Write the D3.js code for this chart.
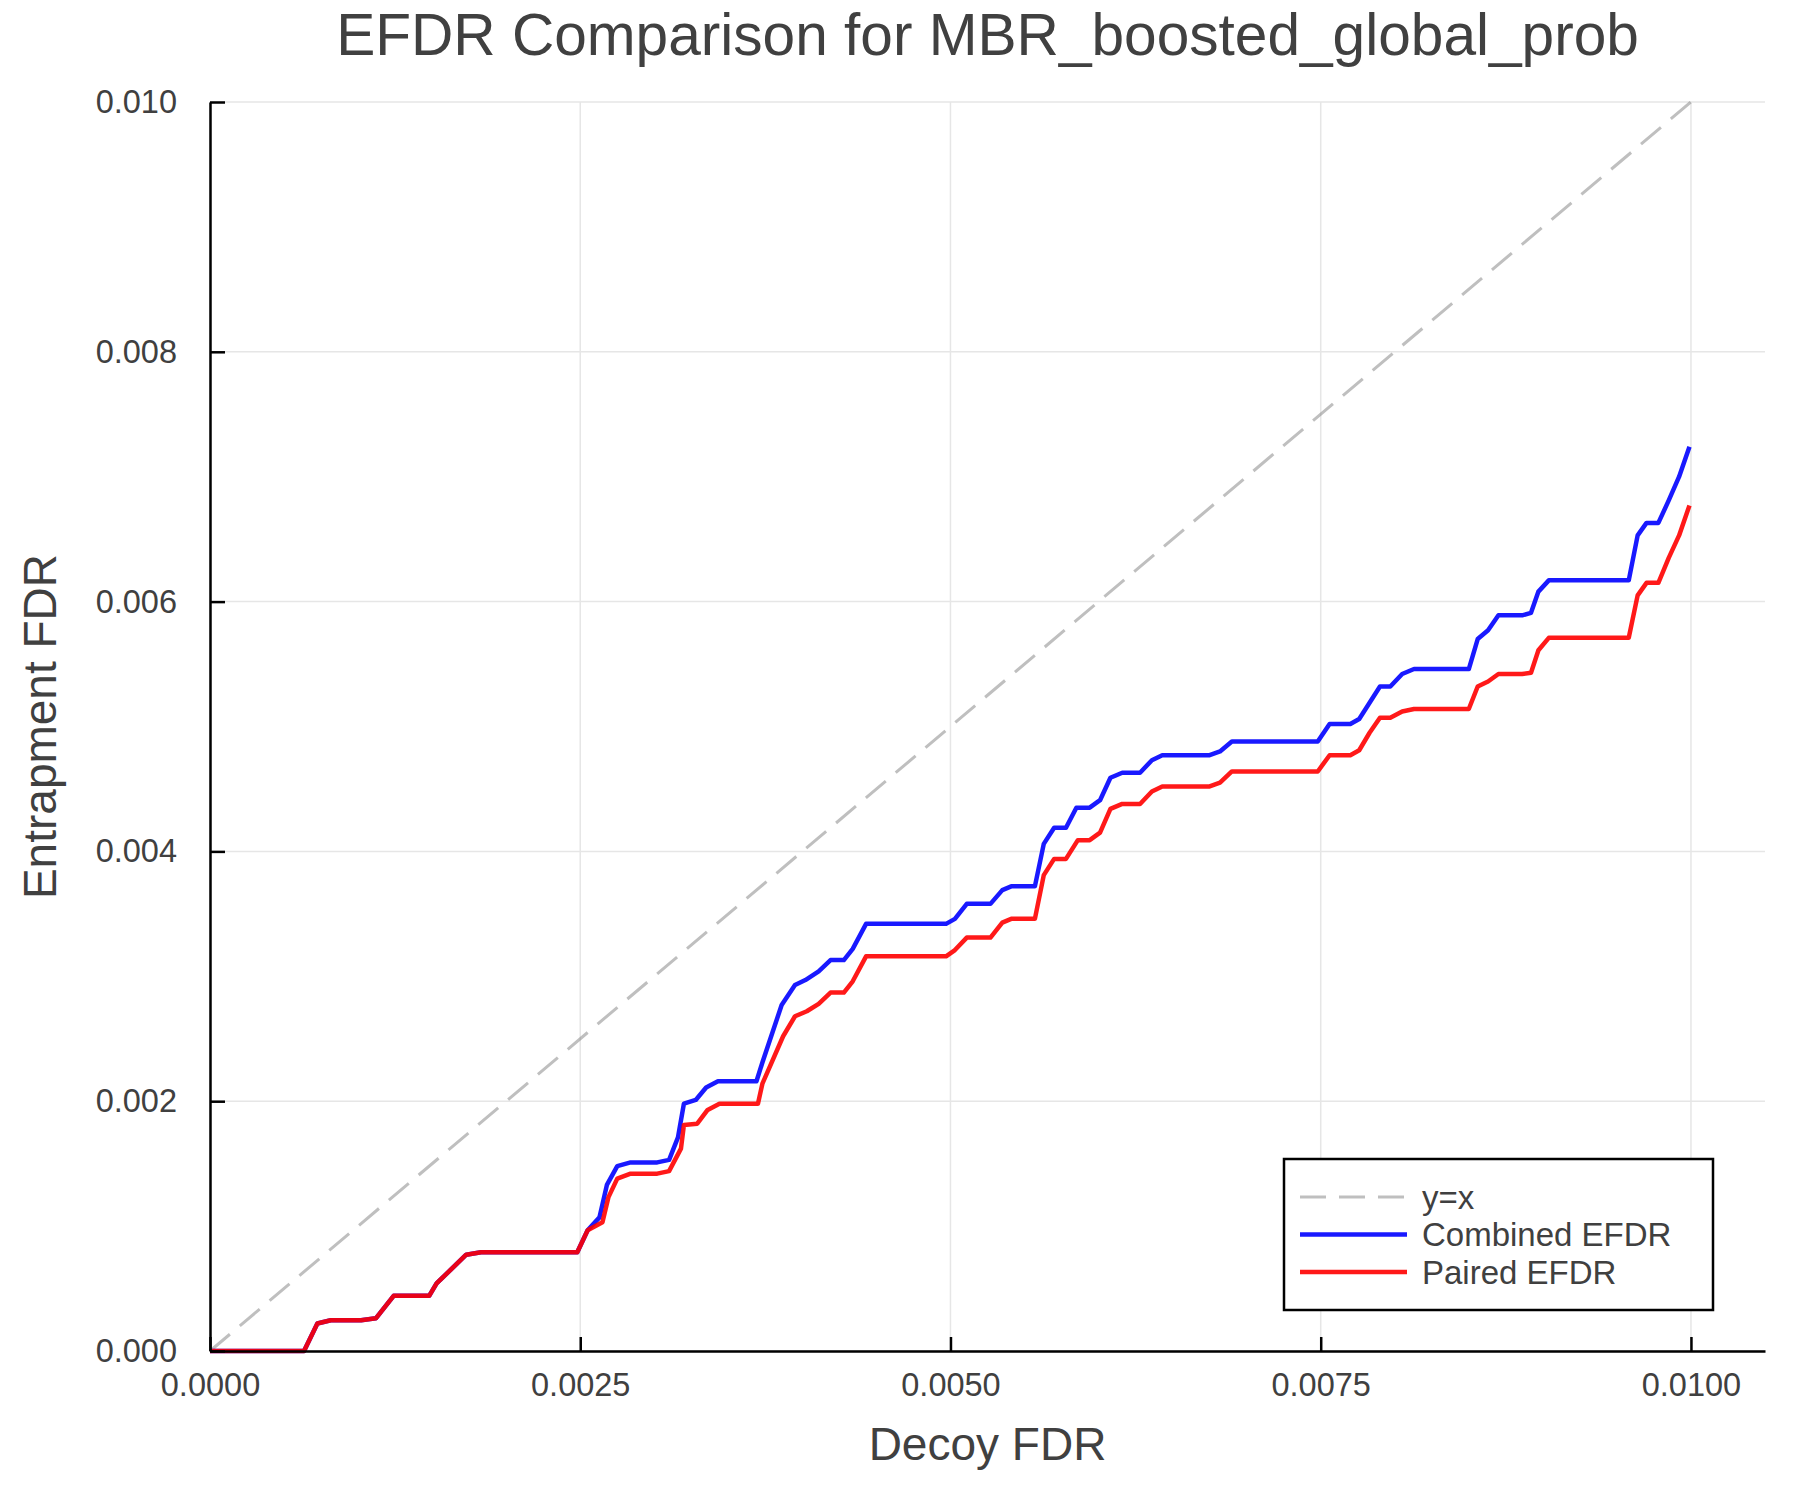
<!DOCTYPE html>
<html>
<head>
<meta charset="utf-8">
<script src="https://cdn.jsdelivr.net/npm/d3@7"></script>
<style>
  body { margin: 0; background: #fff; }
  svg { display: block; font-family: "Liberation Sans", Arial, Helvetica, sans-serif; }
</style>
</head>
<body>
<div id="chart"></div>
<script>
// Values
const combinedX = [0, 0.000635, 0.000725, 0.000815, 0.00102, 0.00112, 0.00124, 0.00148, 0.00153, 0.00173, 0.00183, 0.00248,
  0.00255, 0.00263, 0.00268, 0.00275, 0.00284, 0.00302, 0.0031, 0.00316, 0.0032, 0.00328, 0.00335, 0.00343, 0.00369, 0.00373,
  0.00386, 0.00395, 0.00402, 0.00411, 0.00419, 0.00428, 0.00434, 0.00443, 0.00497, 0.00503, 0.00511, 0.00527, 0.00535, 0.00541,
  0.00557, 0.00563, 0.0057, 0.00578, 0.00585, 0.00594, 0.00601, 0.00608, 0.00616, 0.00628, 0.00636, 0.00643, 0.00675, 0.00682,
  0.0069, 0.00748, 0.00756, 0.0077, 0.00776, 0.00783, 0.0079, 0.00797, 0.00805, 0.00813, 0.0085, 0.00856, 0.00863, 0.0087,
  0.00886, 0.00892, 0.00897, 0.00904, 0.00958, 0.00964, 0.0097, 0.00978, 0.00985, 0.00992, 0.00999];
const combinedY = [0, 0, 0.00022, 0.000246, 0.000246, 0.000262, 0.000442, 0.000442, 0.000541, 0.000771, 0.00079, 0.00079,
  0.000967, 0.00107, 0.00133, 0.00148, 0.00151, 0.00151, 0.00153, 0.00171, 0.00198, 0.00201, 0.00211, 0.00216, 0.00216, 0.00231,
  0.00277, 0.00293, 0.00297, 0.00304, 0.00313, 0.00313, 0.00322, 0.00342, 0.00342, 0.00346, 0.00358, 0.00358, 0.00369, 0.00372,
  0.00372, 0.00406, 0.00419, 0.00419, 0.00435, 0.00435, 0.00441, 0.00459, 0.00463, 0.00463, 0.00473, 0.00477, 0.00477, 0.0048,
  0.00488, 0.00488, 0.00502, 0.00502, 0.00506, 0.00519, 0.00532, 0.00532, 0.00542, 0.00546, 0.00546, 0.0057, 0.00577, 0.00589,
  0.00589, 0.00591, 0.00608, 0.00617, 0.00617, 0.00653, 0.00663, 0.00663, 0.00681, 0.007, 0.00724];

const pairedX = [0, 0.000635, 0.000725, 0.000815, 0.00102, 0.00112, 0.00124, 0.00148, 0.00153, 0.00173, 0.00183, 0.00248,
  0.00255, 0.00265, 0.00269, 0.00275, 0.00284, 0.00302, 0.0031, 0.00318, 0.0032, 0.00329, 0.00336, 0.00344, 0.0037, 0.00373,
  0.00387, 0.00395, 0.00403, 0.00411, 0.00419, 0.00428, 0.00434, 0.00443, 0.00497, 0.00503, 0.00511, 0.00527, 0.00535, 0.00541,
  0.00557, 0.00563, 0.0057, 0.00578, 0.00586, 0.00594, 0.00601, 0.00608, 0.00616, 0.00628, 0.00636, 0.00643, 0.00675, 0.00682,
  0.0069, 0.00748, 0.00756, 0.0077, 0.00776, 0.00783, 0.0079, 0.00797, 0.00805, 0.00813, 0.0085, 0.00856, 0.00863, 0.0087,
  0.00886, 0.00892, 0.00897, 0.00904, 0.00958, 0.00964, 0.0097, 0.00978, 0.00985, 0.00992, 0.00999];
const pairedY = [0, 0, 0.00022, 0.000246, 0.000246, 0.000262, 0.000442, 0.000442, 0.000541, 0.000771, 0.00079, 0.00079,
  0.000967, 0.00103, 0.00123, 0.00138, 0.00142, 0.00142, 0.00144, 0.00162, 0.00181, 0.00182, 0.00193, 0.00198, 0.00198, 0.00214,
  0.00252, 0.00268, 0.00272, 0.00278, 0.00287, 0.00287, 0.00296, 0.00316, 0.00316, 0.00321, 0.00331, 0.00331, 0.00343, 0.00346,
  0.00346, 0.00381, 0.00394, 0.00394, 0.00409, 0.00409, 0.00415, 0.00434, 0.00438, 0.00438, 0.00448, 0.00452, 0.00452, 0.00455,
  0.00464, 0.00464, 0.00477, 0.00477, 0.00481, 0.00495, 0.00507, 0.00507, 0.00512, 0.00514, 0.00514, 0.00532, 0.00536, 0.00542,
  0.00542, 0.00543, 0.00561, 0.00571, 0.00571, 0.00605, 0.00615, 0.00615, 0.00635, 0.00653, 0.00677];

const identityX = [0, 0.01];
const xTicks = [0, 0.0025, 0.005, 0.0075, 0.01];
const yTicks = [0, 0.002, 0.004, 0.006, 0.008, 0.01];
const legendLabels = ["y=x", "Combined EFDR", "Paired EFDR"];

const width = 1800;
const height = 1500;
const margin = { top: 102, right: 35, bottom: 149, left: 210 };
const textColor = "#404040";

const svg = d3.select("#chart")
  .append("svg")
  .attr("width", width)
  .attr("height", height)
  .attr("viewBox", [0, 0, width, height]);

const xS = d3.scaleLinear()
  .domain([0, 0.0105])
  .range([margin.left, width - margin.right]);

const yS = d3.scaleLinear()
  .domain([0, 0.01])
  .range([height - margin.bottom, margin.top]);

// grid
svg.append("g")
  .attr("stroke", "#e6e6e6")
  .attr("stroke-width", 1.5)
  .call((g) => g.selectAll(".gx").data(xTicks).join("line")
    .attr("x1", (d) => xS(d)).attr("x2", (d) => xS(d))
    .attr("y1", yS(0)).attr("y2", yS(0.01)))
  .call((g) => g.selectAll(".gy").data(yTicks).join("line")
    .attr("x1", xS(0)).attr("x2", width - margin.right)
    .attr("y1", (d) => yS(d)).attr("y2", (d) => yS(d)));

// y = x reference
svg.append("path")
  .datum(identityX)
  .attr("fill", "none")
  .attr("stroke", "#808080")
  .attr("stroke-opacity", 0.5)
  .attr("stroke-width", 3)
  .attr("stroke-dasharray", "26,13")
  .attr("d", d3.line().x((d) => xS(d)).y((d) => yS(d)));

const line = d3.line().x((d) => xS(d[0])).y((d) => yS(d[1]));

svg.append("path")
  .datum(d3.zip(combinedX, combinedY))
  .attr("fill", "none")
  .attr("stroke", "blue")
  .attr("stroke-opacity", 0.9)
  .attr("stroke-width", 4.5)
  .attr("stroke-linejoin", "round")
  .attr("d", line);

svg.append("path")
  .datum(d3.zip(pairedX, pairedY))
  .attr("fill", "none")
  .attr("stroke", "red")
  .attr("stroke-opacity", 0.9)
  .attr("stroke-width", 4.5)
  .attr("stroke-linejoin", "round")
  .attr("d", line);

// axes
svg.append("g")
  .attr("transform", `translate(0,${yS(0)})`)
  .call(d3.axisBottom(xS).tickValues(xTicks).tickFormat(d3.format(".4f"))
    .tickSizeInner(-14).tickSizeOuter(0).tickPadding(22))
  .call((g) => g.select(".domain").attr("stroke", "#000").attr("stroke-width", 2.5))
  .call((g) => g.selectAll(".tick line").attr("stroke", "#000").attr("stroke-width", 2.5))
  .call((g) => g.selectAll(".tick text").attr("fill", textColor)
    .attr("font-size", 32.5).attr("font-family", null));

svg.append("g")
  .attr("transform", `translate(${xS(0)},0)`)
  .call(d3.axisLeft(yS).tickValues(yTicks).tickFormat(d3.format(".3f"))
    .tickSizeInner(-15).tickSizeOuter(0).tickPadding(33))
  .call((g) => g.select(".domain").attr("stroke", "#000").attr("stroke-width", 2.5))
  .call((g) => g.selectAll(".tick line").attr("stroke", "#000").attr("stroke-width", 2.5))
  .call((g) => g.selectAll(".tick text").attr("fill", textColor)
    .attr("font-size", 32.5).attr("font-family", null));

// title and axis labels
const cx = (margin.left + width - margin.right) / 2;
svg.append("text")
  .attr("x", cx).attr("y", 55)
  .attr("text-anchor", "middle")
  .attr("fill", textColor)
  .attr("font-size", 58.6)
  .text("EFDR Comparison for MBR_boosted_global_prob");

svg.append("text")
  .attr("x", cx).attr("y", 1460)
  .attr("text-anchor", "middle")
  .attr("fill", textColor)
  .attr("font-size", 46)
  .text("Decoy FDR");

svg.append("text")
  .attr("transform", `translate(56,${(yS(0) + yS(0.01)) / 2}) rotate(-90)`)
  .attr("text-anchor", "middle")
  .attr("fill", textColor)
  .attr("font-size", 46)
  .text("Entrapment FDR");

// legend
const legend = svg.append("g").attr("transform", "translate(1284,1159)");
legend.append("rect")
  .attr("width", 429).attr("height", 151)
  .attr("fill", "#fff").attr("stroke", "#000").attr("stroke-width", 2.5);

const legendStyle = [
  { stroke: "#808080", opacity: 0.5, width: 3, dash: "26,13" },
  { stroke: "blue", opacity: 0.9, width: 4.5, dash: null },
  { stroke: "red", opacity: 0.9, width: 4.5, dash: null },
];
const item = legend.selectAll(".item")
  .data(legendLabels)
  .join("g")
  .attr("transform", (d, i) => `translate(0,${38 + i * 37.5})`);
item.append("line")
  .attr("x1", 16).attr("x2", 123)
  .attr("stroke", (d, i) => legendStyle[i].stroke)
  .attr("stroke-opacity", (d, i) => legendStyle[i].opacity)
  .attr("stroke-width", (d, i) => legendStyle[i].width)
  .attr("stroke-dasharray", (d, i) => legendStyle[i].dash);
item.append("text")
  .attr("x", 138).attr("dy", "0.36em")
  .attr("fill", textColor)
  .attr("font-size", 33)
  .text((d) => d);
</script>
</body>
</html>
